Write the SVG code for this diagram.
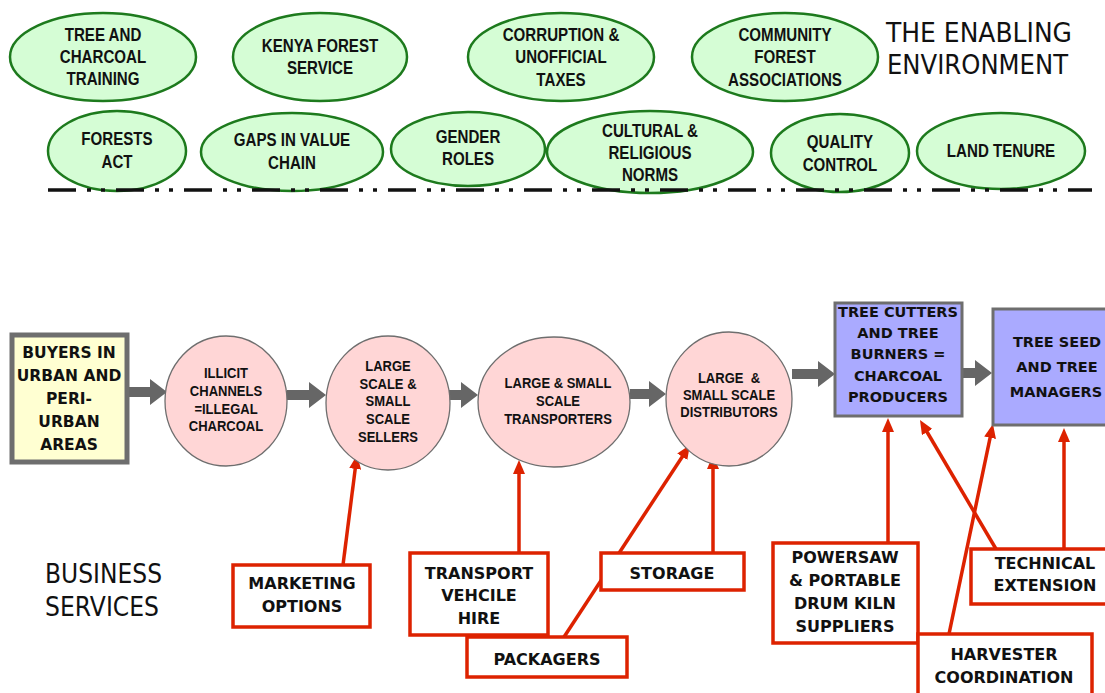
<svg xmlns="http://www.w3.org/2000/svg" width="1105" height="693" viewBox="0 0 1105 693">
<style>
.env{fill:#d5fdd5;stroke:#1d7a1d;stroke-width:2.5}
.et{font-family:"Liberation Sans",Arial,sans-serif;font-weight:bold;font-size:18px;fill:#111;text-anchor:middle}
.pink{fill:#ffd6d6;stroke:#6e6e6e;stroke-width:1.3}
.pt{font-family:"Liberation Sans",Arial,sans-serif;font-weight:bold;font-size:15.5px;fill:#111;text-anchor:middle}
.bt{font-family:"DejaVu Sans",Verdana,sans-serif;font-weight:bold;fill:#111;text-anchor:middle}
.rbox{fill:#fff;stroke:#dd2200;stroke-width:3.5}
.purple{fill:#aaaaff;stroke:#6e6e6e;stroke-width:3}
.title{font-family:"DejaVu Sans",Verdana,sans-serif;font-size:27px;fill:#111}
.gar{fill:#666}
.rar{stroke:#dd2200;stroke-width:3.5;fill:none}
</style>
<defs>
<marker id="rh" viewBox="0 0 14 12" refX="3" refY="6" markerWidth="14" markerHeight="12" markerUnits="userSpaceOnUse" orient="auto">
<path d="M0,0 L14,6 L0,12 z" fill="#dd2200"/>
</marker>
</defs>
<rect width="1105" height="693" fill="#fff"/>

<!-- Enabling environment -->
<g id="n-training"><ellipse class="env" cx="103" cy="57" rx="93" ry="44"/>
<text class="et" transform="translate(103 0) scale(0.84 1)"><tspan x="0" y="41.5">TREE AND</tspan><tspan x="0" y="63.5">CHARCOAL</tspan><tspan x="0" y="85.5">TRAINING</tspan></text></g>
<g id="n-kfs"><ellipse class="env" cx="320" cy="57" rx="87" ry="44"/>
<text class="et" transform="translate(320 0) scale(0.84 1)"><tspan x="0" y="52.5">KENYA FOREST</tspan><tspan x="0" y="74.5">SERVICE</tspan></text></g>
<g id="n-corruption"><ellipse class="env" cx="561" cy="57" rx="93" ry="44"/>
<text class="et" transform="translate(561 0) scale(0.84 1)"><tspan x="0" y="41.5">CORRUPTION &amp;</tspan><tspan x="0" y="63.5">UNOFFICIAL</tspan><tspan x="0" y="86">TAXES</tspan></text></g>
<g id="n-cfa"><ellipse class="env" cx="785" cy="57" rx="93" ry="44"/>
<text class="et" transform="translate(785 0) scale(0.84 1)"><tspan x="0" y="41.5">COMMUNITY</tspan><tspan x="0" y="63.5">FOREST</tspan><tspan x="0" y="86">ASSOCIATIONS</tspan></text></g>
<g id="n-forestsact"><ellipse class="env" cx="117" cy="151" rx="69" ry="40"/>
<text class="et" transform="translate(117 0) scale(0.84 1)"><tspan x="0" y="145.5">FORESTS</tspan><tspan x="0" y="168.5">ACT</tspan></text></g>
<g id="n-gaps"><ellipse class="env" cx="292" cy="152" rx="91" ry="39"/>
<text class="et" transform="translate(292 0) scale(0.84 1)"><tspan x="0" y="146.5">GAPS IN VALUE</tspan><tspan x="0" y="169.5">CHAIN</tspan></text></g>
<g id="n-gender"><ellipse class="env" cx="468" cy="149" rx="77" ry="37"/>
<text class="et" transform="translate(468 0) scale(0.84 1)"><tspan x="0" y="143.5">GENDER</tspan><tspan x="0" y="165.5">ROLES</tspan></text></g>
<g id="n-cultural"><ellipse class="env" cx="650" cy="152" rx="103" ry="41"/>
<text class="et" transform="translate(650 0) scale(0.84 1)"><tspan x="0" y="137.5">CULTURAL &amp;</tspan><tspan x="0" y="159.5">RELIGIOUS</tspan><tspan x="0" y="181.5">NORMS</tspan></text></g>
<g id="n-quality"><ellipse class="env" cx="840" cy="153" rx="69" ry="39"/>
<text class="et" transform="translate(840 0) scale(0.84 1)"><tspan x="0" y="148.5">QUALITY</tspan><tspan x="0" y="171.5">CONTROL</tspan></text></g>
<g id="n-land"><ellipse class="env" cx="1001" cy="151" rx="84" ry="38"/>
<text class="et" transform="translate(1001 0) scale(0.84 1)"><tspan x="0" y="157.5">LAND TENURE</tspan></text></g>

<text class="title"><tspan x="886" y="42" textLength="186" lengthAdjust="spacingAndGlyphs">THE ENABLING</tspan><tspan x="887" y="74" textLength="181" lengthAdjust="spacingAndGlyphs">ENVIRONMENT</tspan></text>

<line x1="48" y1="190" x2="1092" y2="190" stroke="#111" stroke-width="3.5" stroke-dasharray="28 11 4 10 4 11"/>

<text class="title"><tspan x="45" y="583" textLength="117" lengthAdjust="spacingAndGlyphs">BUSINESS</tspan><tspan x="45" y="616" textLength="114" lengthAdjust="spacingAndGlyphs">SERVICES</tspan></text>

<!-- Connectors -->
<g id="connectors">
<path class="gar" d="M129,387 H150 V379 L167,392 L150,405 V397 H129 Z"/>
<path class="gar" d="M287,390 H309 V382 L326,395 L309,408 V400 H287 Z"/>
<path class="gar" d="M449,390 H461 V382 L478,395 L461,408 V400 H449 Z"/>
<path class="gar" d="M630,389 H649 V381 L666,394 L649,407 V399 H630 Z"/>
<path class="gar" d="M792,369 H818 V361 L835,374 L818,387 V379 H792 Z"/>
<path class="gar" d="M962,368 H975 V360 L992,373 L975,386 V378 H962 Z"/>
<line class="rar" x1="343" y1="565" x2="355.6" y2="465.9" marker-end="url(#rh)"/>
<line class="rar" x1="519" y1="553" x2="519" y2="471" marker-end="url(#rh)"/>
<line class="rar" x1="564" y1="637" x2="683.9" y2="454.2" marker-end="url(#rh)"/>
<line class="rar" x1="713" y1="553" x2="713" y2="466" marker-end="url(#rh)"/>
<line class="rar" x1="888" y1="543" x2="888" y2="429" marker-end="url(#rh)"/>
<line class="rar" x1="996" y1="549" x2="925.6" y2="429.5" marker-end="url(#rh)"/>
<line class="rar" x1="949" y1="634" x2="990.7" y2="434.8" marker-end="url(#rh)"/>
<line class="rar" x1="1064" y1="549" x2="1064" y2="439" marker-end="url(#rh)"/>
</g>

<!-- Value chain nodes -->
<g id="n-buyers"><rect x="12" y="335" width="115" height="127" fill="#ffffd2" stroke="#6e6e6e" stroke-width="5"/>
<text class="bt" font-size="15.5"><tspan x="69" y="358">BUYERS IN</tspan><tspan x="69" y="381">URBAN AND</tspan><tspan x="69" y="404">PERI-</tspan><tspan x="69" y="427">URBAN</tspan><tspan x="69" y="450">AREAS</tspan></text></g>
<g id="n-illicit"><ellipse class="pink" cx="226" cy="401" rx="61" ry="65"/>
<text class="pt" transform="translate(226 0) scale(0.84 1)"><tspan x="0" y="378.5">ILLICIT</tspan><tspan x="0" y="396.5">CHANNELS</tspan><tspan x="0" y="414.5">=ILLEGAL</tspan><tspan x="0" y="431.5">CHARCOAL</tspan></text></g>
<g id="n-sellers"><ellipse class="pink" cx="388" cy="403" rx="62" ry="67"/>
<text class="pt" transform="translate(388 0) scale(0.84 1)"><tspan x="0" y="371.5">LARGE</tspan><tspan x="0" y="389.5">SCALE &amp;</tspan><tspan x="0" y="406.5">SMALL</tspan><tspan x="0" y="424">SCALE</tspan><tspan x="0" y="442.5">SELLERS</tspan></text></g>
<g id="n-transporters"><ellipse class="pink" cx="554" cy="402" rx="76" ry="65"/>
<text class="pt" transform="translate(558 0) scale(0.84 1)"><tspan x="0" y="388.5">LARGE &amp; SMALL</tspan><tspan x="0" y="406.5">SCALE</tspan><tspan x="0" y="424.5">TRANSPORTERS</tspan></text></g>
<g id="n-distributors"><ellipse class="pink" cx="729" cy="399" rx="63" ry="67"/>
<text class="pt" transform="translate(729 0) scale(0.84 1)"><tspan x="0" y="383.5" xml:space="preserve">LARGE  &amp;</tspan><tspan x="0" y="400.5">SMALL SCALE</tspan><tspan x="0" y="417.5">DISTRIBUTORS</tspan></text></g>
<g id="n-producers"><rect x="835" y="303" width="127" height="113" class="purple"/>
<text class="bt" font-size="14.5"><tspan x="898" y="317">TREE CUTTERS</tspan><tspan x="898" y="338">AND TREE</tspan><tspan x="898" y="359">BURNERS =</tspan><tspan x="898" y="381">CHARCOAL</tspan><tspan x="898" y="402">PRODUCERS</tspan></text></g>
<g id="n-treeseed"><rect x="993" y="309" width="120" height="116" class="purple"/>
<text class="bt" font-size="14.5"><tspan x="1057" y="347">TREE SEED</tspan><tspan x="1057" y="372">AND TREE</tspan><tspan x="1056" y="397">MANAGERS</tspan></text></g>

<!-- Business services -->
<g id="n-marketing"><rect class="rbox" x="233" y="565" width="137" height="62"/>
<text class="bt" font-size="16"><tspan x="302" y="589">MARKETING</tspan><tspan x="302" y="612">OPTIONS</tspan></text></g>
<g id="n-packagers"><rect class="rbox" x="467" y="637" width="160" height="40"/>
<text class="bt" font-size="16"><tspan x="547" y="665">PACKAGERS</tspan></text></g>
<g id="n-transport"><rect class="rbox" x="410" y="553" width="138" height="82"/>
<text class="bt" font-size="16"><tspan x="479" y="579">TRANSPORT</tspan><tspan x="479" y="601">VEHCILE</tspan><tspan x="479" y="624">HIRE</tspan></text></g>
<g id="n-storage"><rect class="rbox" x="601" y="553" width="143" height="37"/>
<text class="bt" font-size="16"><tspan x="672" y="579">STORAGE</tspan></text></g>
<g id="n-powersaw"><rect class="rbox" x="773" y="543" width="145" height="100"/>
<text class="bt" font-size="16"><tspan x="845" y="563">POWERSAW</tspan><tspan x="845" y="586">&amp; PORTABLE</tspan><tspan x="845" y="609">DRUM KILN</tspan><tspan x="845" y="632">SUPPLIERS</tspan></text></g>
<g id="n-harvester"><rect class="rbox" x="918" y="634" width="174" height="70"/>
<text class="bt" font-size="16"><tspan x="1004" y="660">HARVESTER</tspan><tspan x="1004" y="683">COORDINATION</tspan></text></g>
<g id="n-technical"><rect class="rbox" x="971" y="549" width="145" height="55"/>
<text class="bt" font-size="16"><tspan x="1045" y="569">TECHNICAL</tspan><tspan x="1045" y="591">EXTENSION</tspan></text></g>
</svg>
